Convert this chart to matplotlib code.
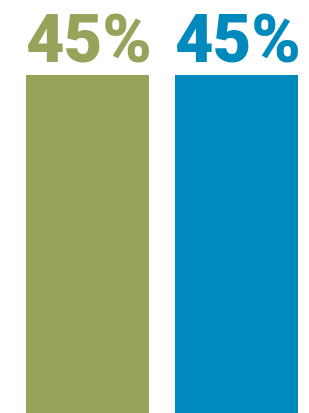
import matplotlib.pyplot as plt

## Données
categories = ["A", "B"]
valeurs = [45, 45]
etiquettes = ["45%", "45%"]
couleurs = ["#97a35b", "#0089bc"]

## Figure
fig = plt.figure(figsize=(3.09, 4.14), dpi=100)
ax = fig.add_axes([0, 0, 1, 1])
pos = range(len(categories))
ax.bar(pos, valeurs, width=0.826, color=couleurs)

# on laisse de la place au-dessus pour les gros pourcentages
ax.set_ylim(0, 45 * 414 / 338)
ax.set_xlim(-0.587, 1.487)
ax.axis("off")

for i, (v, lab) in enumerate(zip(valeurs, etiquettes)):
    ax.annotate(lab, (i, v), xytext=(0.5, 10), textcoords="offset points",
                ha="center", va="baseline", fontsize=48, fontweight=900,
                family="Roboto", color=couleurs[i])

fig.savefig("out.png", dpi=100)
